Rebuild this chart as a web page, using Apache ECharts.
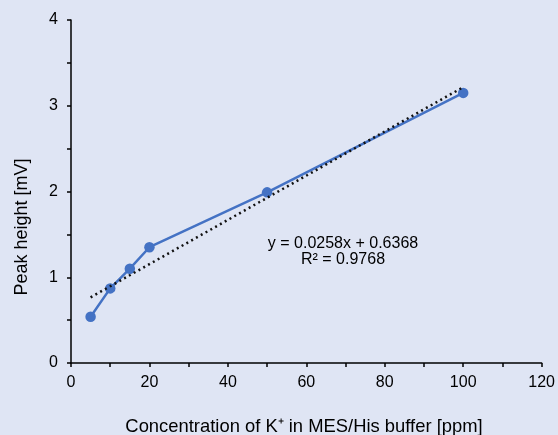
<!DOCTYPE html>
<html>
<head>
<meta charset="utf-8">
<script src="https://cdn.jsdelivr.net/npm/echarts@6/dist/echarts.min.js"></script>
<style>
  html, body { margin: 0; padding: 0; background: #dfe5f4; }
  #chart { width: 558px; height: 435px; }
</style>
</head>
<body>
<div id="chart"></div>
<script>
// measured data
const concentration = [5, 10, 15, 20, 50, 100]
const peakHeight = [0.54, 0.87, 1.10, 1.35, 1.99, 3.15]

// linear trendline shown on the chart
const slope = 0.0258
const intercept = 0.6368
const rSquared = 0.9768
const trendX = [5, 100]

const xTicks = { min: 0, max: 120, interval: 20 }
const yTicks = { min: 0, max: 4, interval: 1 }

const chart = echarts.init(document.getElementById('chart'))

const axisText = { color: '#000', fontFamily: 'Liberation Sans, Arial, sans-serif', fontSize: 16 }

chart.setOption({
  backgroundColor: '#dfe5f4',
  animation: false,
  grid: { left: 71, right: 15, top: 20, bottom: 72 },
  xAxis: {
    type: 'value',
    min: xTicks.min,
    max: xTicks.max,
    interval: xTicks.interval,
    splitLine: { show: false },
    axisLine: { lineStyle: { color: '#000', width: 1.5 } },
    axisTick: { length: 4, lineStyle: { color: '#000', width: 1.5 } },
    minorTick: { show: true, splitNumber: 2, length: 4, lineStyle: { color: '#000', width: 1.5 } },
    axisLabel: Object.assign({ margin: 12 }, axisText)
  },
  yAxis: {
    type: 'value',
    min: yTicks.min,
    max: yTicks.max,
    interval: yTicks.interval,
    splitLine: { show: false },
    axisLine: { show: true, lineStyle: { color: '#000', width: 1.5 } },
    axisTick: { show: true, length: 4, lineStyle: { color: '#000', width: 1.5 } },
    minorTick: { show: true, splitNumber: 2, length: 4, lineStyle: { color: '#000', width: 1.5 } },
    axisLabel: Object.assign({ margin: 13 }, axisText)
  },
  series: [
    {
      name: 'trend',
      type: 'line',
      data: trendX.map(x => [x, slope * x + intercept]),
      showSymbol: false,
      lineStyle: { color: '#111', width: 2.5, type: [2, 3.5] },
      z: 3
    },
    {
      name: 'peak',
      type: 'line',
      data: concentration.map((c, i) => [c, peakHeight[i]]),
      symbol: 'circle',
      symbolSize: 10.5,
      itemStyle: { color: '#4472c4' },
      lineStyle: { color: '#4472c4', width: 2.5 },
      z: 2
    }
  ],
  graphic: [
    {
      type: 'text',
      x: 304,
      y: 427,
      style: {
        text: 'Concentration of K⁺ in MES/His buffer [ppm]',
        fill: '#000',
        font: '18.4px Liberation Sans, Arial, sans-serif',
        align: 'center',
        verticalAlign: 'middle'
      }
    },
    {
      type: 'text',
      x: 22,
      y: 227,
      rotation: Math.PI / 2,
      style: {
        text: 'Peak height [mV]',
        fill: '#000',
        font: '18px Liberation Sans, Arial, sans-serif',
        align: 'center',
        verticalAlign: 'middle'
      }
    },
    {
      type: 'text',
      x: 343,
      y: 236,
      style: {
        text: 'y = ' + slope + 'x + ' + intercept + '\nR² = ' + rSquared,
        fill: '#000',
        font: '16px Liberation Sans, Arial, sans-serif',
        align: 'center',
        lineHeight: 16
      }
    }
  ]
})
</script>
</body>
</html>
